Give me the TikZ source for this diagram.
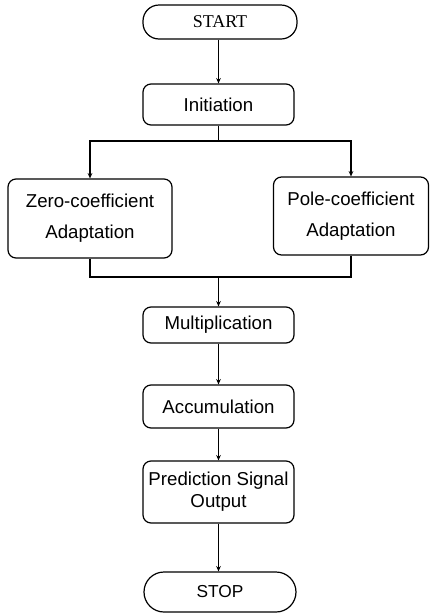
\documentclass[tikz,border=0pt]{standalone}
\usepackage{fontspec}
\setmainfont{Liberation Sans}
\newfontfamily\serifone{Liberation Serif}
\usetikzlibrary{arrows.meta}
\tikzset{
  box/.style={draw, line width=0.9pt, rounded corners=6pt, align=center, inner sep=0pt,
    font=\fontsize{14}{16.5}\selectfont},
  term/.style={draw, line width=0.9pt, rounded corners=12pt, inner sep=0pt},
  conn/.style={line width=0.9pt},
  arr/.style={conn, -{Stealth[length=4pt,width=3.5pt]}}
}
\begin{document}
\begin{tikzpicture}[x=0.75pt,y=-0.75pt]
\useasboundingbox (0,0) rectangle (432,615);
\node[term, minimum width=115.5pt, minimum height=25.5pt, font=\serifone\fontsize{13.5}{16}\selectfont] (start) at (220,22) {START};
\node[box, minimum width=113.25pt, minimum height=30.75pt] (init) at (218.5,104.5) {Initiation};
\node[box, minimum width=123pt, minimum height=59.25pt] (zero) at (90,218.5) {Zero-coefficient\\[7pt]Adaptation};
\node[box, minimum width=116.25pt, minimum height=58.5pt] (pole) at (351,216) {Pole-coefficient\\[7pt]Adaptation};
\node[box, minimum width=113.25pt, minimum height=27pt] (mult) at (218.5,325) {Multiplication};
\node[box, minimum width=113.25pt, minimum height=32.25pt] (acc) at (218.5,406.5) {Accumulation};
\node[box, minimum width=113.25pt, minimum height=46.5pt] (pred) at (218.5,492) {Prediction Signal\\Output};
\node[term, minimum width=114pt, minimum height=30pt, rounded corners=15pt, font=\fontsize{13}{15}\selectfont] (stop) at (220,592) {STOP};
\coordinate (br) at (218.5,141);
\coordinate (jn) at (218.5,277);
\draw[arr] (start.south -| init.north) -- (init.north);
\draw[conn] (init.south) -- (br);
\draw[arr] (br) -| (zero.north);
\draw[arr] (br) -| (pole.north);
\draw[conn] (zero.south) |- (jn);
\draw[conn] (pole.south) |- (jn);
\draw[arr] (jn) -- (mult.north);
\draw[arr] (mult.south) -- (acc.north);
\draw[arr] (acc.south) -- (pred.north);
\draw[arr] (pred.south) -- (pred.south |- stop.north);
\end{tikzpicture}
\end{document}
